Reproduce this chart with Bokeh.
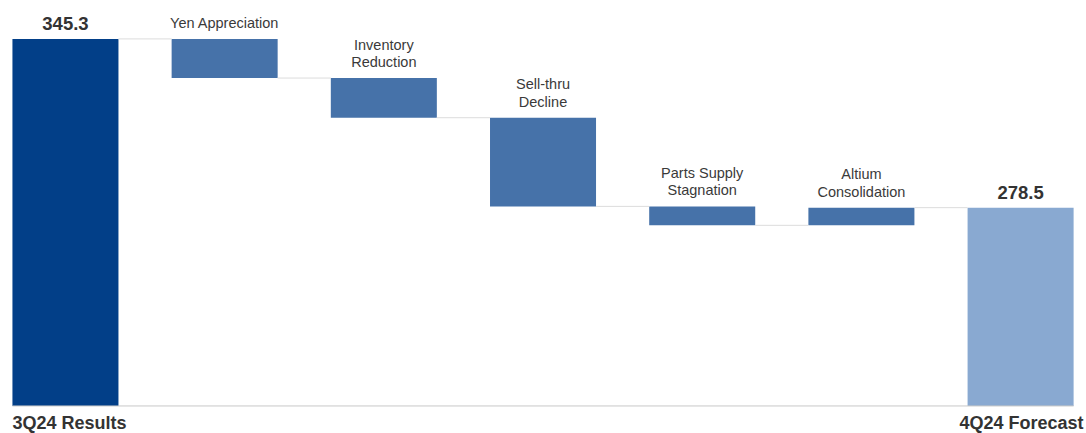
from bokeh.plotting import figure
from bokeh.models import ColumnDataSource, Range1d
from bokeh.core.properties import value
from bokeh.embed import file_html
from bokeh.resources import INLINE

categories = ["3Q24 Results", "Yen Appreciation", "Inventory\nReduction", "Sell-thru\nDecline",
              "Parts Supply\nStagnation", "Altium\nConsolidation", "4Q24 Forecast"]
start_value = 345.3
changes = [-15.5, -15.7, -35.1, -7.5, 7.0]
end_value = 278.5
axis_base = 200.0

FONT = "Liberation Sans"

# build waterfall geometry
xs = list(range(len(categories)))
bottoms, tops, colors = [], [], []
bottoms.append(axis_base); tops.append(start_value); colors.append("#023F88")
level = start_value
levels = [start_value]
for c in changes:
    new = level + c
    bottoms.append(min(level, new)); tops.append(max(level, new)); colors.append("#4672A9")
    level = new
    levels.append(level)
bottoms.append(axis_base); tops.append(end_value); colors.append("#89A9D1")

p = figure(width=1086, height=433, output_backend="svg", toolbar_location=None,
           x_range=Range1d(-0.408, 6.414), y_range=Range1d(189.1, 360.5),
           min_border=0, min_border_left=0, min_border_right=0, min_border_top=0, min_border_bottom=0)
p.axis.visible = False
p.grid.visible = False
p.outline_line_color = None
p.background_fill_color = "white"
p.border_fill_color = "white"

bw = 0.666
src = ColumnDataSource(dict(x=xs, bottom=bottoms, top=tops, color=colors))
p.vbar(x="x", width=bw, bottom="bottom", top="top", fill_color="color", line_color=None, source=src)

# connectors
cx0 = [i + bw / 2 for i in range(len(categories) - 1)]
cx1 = [i + 1 - bw / 2 for i in range(len(categories) - 1)]
cy = levels[:len(cx0)]
p.segment(x0=cx0, x1=cx1, y0=cy, y1=cy, line_color="#DCDCDC", line_width=1)

# baseline
p.segment(x0=[-bw / 2], x1=[6 + bw / 2], y0=[axis_base], y1=[axis_base], line_color="#C8C8C8", line_width=1)

# category labels above change bars
mid_x = xs[1:-1]
mid_y = tops[1:-1]
p.text(x=mid_x, y=mid_y, text=categories[1:-1], text_align="center", text_baseline="bottom",
       y_offset=-8, text_font=value(FONT), text_font_size="14.5px", text_color="#3A3A3A",
       text_line_height=1.08)

# value labels
p.text(x=[0, 6], y=[start_value, end_value], text=[f"{start_value:.1f}", f"{end_value:.1f}"],
       text_align="center", text_baseline="bottom", y_offset=-9, text_font=value(FONT),
       text_font_size="18.5px", text_font_style="bold", text_color="#333333")

# bottom labels
p.text(x=[-bw / 2], y=[axis_base], text=[categories[0]], text_align="left", text_baseline="top",
       y_offset=7, text_font=value(FONT), text_font_size="18px", text_font_style="bold",
       text_color="#333333")
p.text(x=[6 + bw / 2], y=[axis_base], text=[categories[-1]], text_align="right", text_baseline="top",
       y_offset=7, x_offset=10, text_font=value(FONT), text_font_size="18px", text_font_style="bold",
       text_color="#333333")

open("out.html", "w").write(file_html(p, INLINE))
